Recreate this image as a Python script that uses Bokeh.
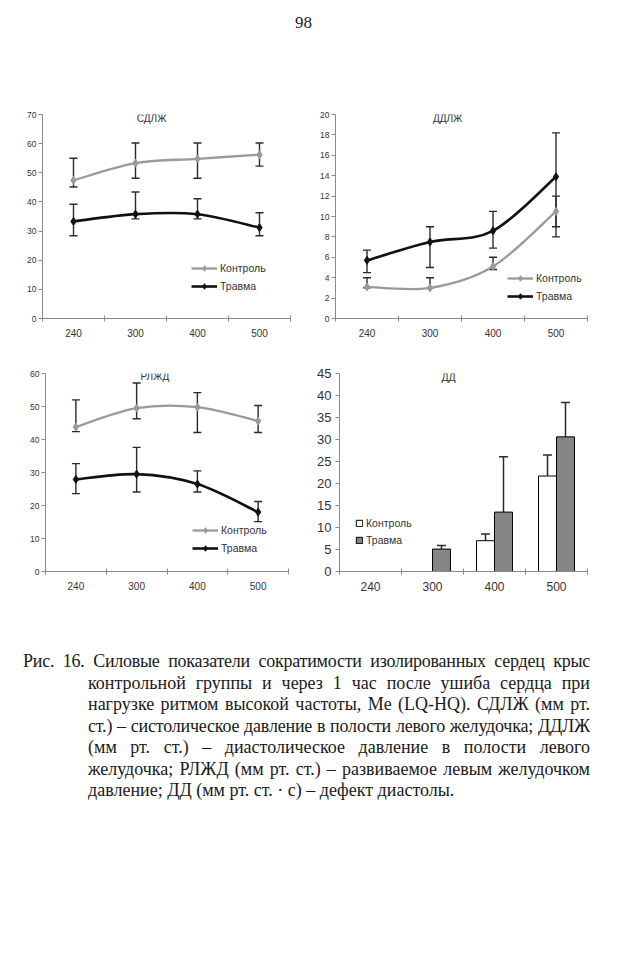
from bokeh.plotting import figure
from bokeh.models import (FixedTicker, Label, Legend, LegendItem, Whisker, TeeHead,
                          ColumnDataSource, Div, Range1d)
from bokeh.layouts import column, row
from bokeh.embed import file_html
from bokeh.resources import INLINE

# ---------------- data ----------------
categories = ["240", "300", "400", "500"]

sdlzh_control = [47.4, 53.3, 54.8, 56.2]
sdlzh_control_lo = [45.1, 48.1, 48.1, 52.3]
sdlzh_control_hi = [55.0, 60.2, 60.2, 60.2]
sdlzh_trauma = [33.3, 35.8, 35.8, 31.2]
sdlzh_trauma_lo = [28.4, 34.2, 34.2, 28.4]
sdlzh_trauma_hi = [39.2, 43.4, 41.1, 36.3]

ddlzh_control = [3.1, 3.0, 5.1, 10.5]
ddlzh_control_lo = [3.0, 3.0, 4.8, 9.0]
ddlzh_control_hi = [4.0, 4.0, 6.0, 12.0]
ddlzh_trauma = [5.7, 7.5, 8.6, 13.9]
ddlzh_trauma_lo = [4.5, 5.0, 6.9, 8.0]
ddlzh_trauma_hi = [6.7, 9.0, 10.5, 18.2]

rlzhd_control = [43.8, 49.5, 49.8, 45.6]
rlzhd_control_lo = [42.4, 46.3, 42.1, 42.1]
rlzhd_control_hi = [52.0, 57.1, 54.2, 50.3]
rlzhd_trauma = [27.9, 29.5, 26.5, 18.0]
rlzhd_trauma_lo = [23.6, 24.1, 24.1, 15.1]
rlzhd_trauma_hi = [32.7, 37.6, 30.5, 21.2]

dd_control = [0.0, 0.0, 7.0, 21.7]
dd_control_lo = [None, None, 5.8, 17.7]
dd_control_hi = [None, None, 8.5, 26.5]
dd_trauma = [0.0, 5.1, 13.5, 30.6]
dd_trauma_lo = [None, 4.2, 10.9, 27.7]
dd_trauma_hi = [None, 5.9, 26.1, 38.4]

series_names = ["Контроль", "Травма"]

page_number = "98"
caption_lines = [
    "Рис. 16. Силовые показатели сократимости изолированных сердец крыс",
    "контрольной группы и через 1 час после ушиба сердца при",
    "нагрузке ритмом высокой частоты, Me (LQ-HQ). СДЛЖ (мм рт.",
    "ст.) – систолическое давление в полости левого желудочка; ДДЛЖ",
    "(мм рт. ст.) – диастолическое давление в полости левого",
    "желудочка; РЛЖД (мм рт. ст.) – развиваемое левым желудочком",
    "давление; ДД (мм рт. ст. · с) – дефект диастолы.",
]

# ---------------- styling ----------------
FONT = "Liberation Sans"
AXIS_COLOR = "#8a8a8a"
TEXT_COLOR = "#333333"
CONTROL_COLOR = "#9a9a9a"
TRAUMA_COLOR = "#111111"
ERR_COLOR = "#2a2a2a"

xc = [i + 0.5 for i in range(len(categories))]


def base_fig(width, height, ymax, ystep, left, right, top, bottom,
             ylab_size, xlab_size, ystandoff):
    p = figure(width=width, height=height, x_range=Range1d(0, 4),
               y_range=Range1d(0, ymax), output_backend="svg",
               toolbar_location=None, min_border_left=left,
               min_border_right=right, min_border_top=top,
               min_border_bottom=bottom)
    p.outline_line_color = None
    p.grid.visible = False
    p.background_fill_color = "white"
    p.border_fill_color = "white"
    xa = p.xaxis[0]
    xa.ticker = FixedTicker(ticks=xc, minor_ticks=[0, 1, 2, 3, 4])
    xa.major_label_overrides = {x: c for x, c in zip(xc, categories)}
    xa.major_tick_in = 0
    xa.major_tick_out = 0
    xa.minor_tick_in = 3
    xa.minor_tick_out = 3
    xa.minor_tick_line_color = AXIS_COLOR
    xa.axis_line_color = AXIS_COLOR
    xa.major_label_text_font = FONT
    xa.major_label_text_font_size = xlab_size
    xa.major_label_text_color = TEXT_COLOR
    xa.major_label_standoff = 7
    ya = p.yaxis[0]
    ya.ticker = FixedTicker(ticks=list(range(0, ymax + 1, ystep)), minor_ticks=[])
    ya.major_tick_in = 0
    ya.major_tick_out = 4
    ya.major_tick_line_color = AXIS_COLOR
    ya.axis_line_color = AXIS_COLOR
    ya.major_label_text_font = FONT
    ya.major_label_text_font_size = ylab_size
    ya.major_label_text_color = TEXT_COLOR
    ya.major_label_standoff = ystandoff
    return p


def add_title(p, text, x, y, size="10px"):
    p.add_layout(Label(x=x, y=y, text=text, text_font=FONT, text_font_size=size,
                       text_color=TEXT_COLOR, text_align="center",
                       text_baseline="middle"))


def smooth_segments(xs, ys):
    pts = list(zip(xs, ys))
    ext = [pts[0]] + pts + [pts[-1]]
    d = dict(x0=[], y0=[], x1=[], y1=[], cx0=[], cy0=[], cx1=[], cy1=[])
    for i in range(len(pts) - 1):
        p0, p1, p2, p3 = ext[i], ext[i + 1], ext[i + 2], ext[i + 3]
        d["x0"].append(p1[0]); d["y0"].append(p1[1])
        d["x1"].append(p2[0]); d["y1"].append(p2[1])
        d["cx0"].append(p1[0] + (p2[0] - p0[0]) / 6.0)
        d["cy0"].append(p1[1] + (p2[1] - p0[1]) / 6.0)
        d["cx1"].append(p2[0] - (p3[0] - p1[0]) / 6.0)
        d["cy1"].append(p2[1] - (p3[1] - p1[1]) / 6.0)
    return ColumnDataSource(d)


def add_errors(p, xs, lo, hi, color=ERR_COLOR, size=8, width=1.4):
    keep = [i for i in range(len(xs)) if lo[i] is not None]
    src = ColumnDataSource(dict(x=[xs[i] for i in keep],
                                lo=[lo[i] for i in keep],
                                hi=[hi[i] for i in keep]))
    w = Whisker(source=src, base="x", lower="lo", upper="hi",
                line_color=color, line_width=width,
                upper_head=TeeHead(size=size, line_color=color, line_width=width),
                lower_head=TeeHead(size=size, line_color=color, line_width=width))
    p.add_layout(w)


def line_chart(p, ctrl, ctrl_lo, ctrl_hi, tr, tr_lo, tr_hi, legend_loc):
    items = []
    for vals, lo, hi, col, lw, name in [
        (ctrl, ctrl_lo, ctrl_hi, CONTROL_COLOR, 2.3, series_names[0]),
        (tr, tr_lo, tr_hi, TRAUMA_COLOR, 2.6, series_names[1]),
    ]:
        p.bezier(x0="x0", y0="y0", x1="x1", y1="y1", cx0="cx0", cy0="cy0",
                 cx1="cx1", cy1="cy1", source=smooth_segments(xc, vals),
                 line_color=col, line_width=lw)
        leg_line = p.line(xc, vals, line_color=col, line_width=lw, visible=False)
        add_errors(p, xc, lo, hi)
        sc = p.scatter(xc, vals, marker="diamond", size=8, fill_color=col,
                       line_color=col)
        items.append(LegendItem(label=name, renderers=[leg_line, sc]))
    leg = Legend(items=items, location=legend_loc, orientation="vertical",
                 glyph_width=26, glyph_height=14, label_height=14,
                 label_width=20, spacing=4, padding=0, margin=0,
                 label_standoff=3, label_text_font=FONT,
                 label_text_font_size="10.5px", label_text_color=TEXT_COLOR,
                 background_fill_alpha=0, border_line_color=None)
    p.add_layout(leg, "center")


# ---------- chart 1: СДЛЖ ----------
p1 = base_fig(292, 256, 70, 10, 34, 10, 18, 34, "8.5px", "10px", 2)
line_chart(p1, sdlzh_control, sdlzh_control_lo, sdlzh_control_hi,
           sdlzh_trauma, sdlzh_trauma_lo, sdlzh_trauma_hi, (149, 25))
add_title(p1, "СДЛЖ", 1.76, 68.6)

# ---------- chart 2: ДДЛЖ ----------
p2 = base_fig(312, 256, 20, 2, 35, 25, 18, 34, "8.5px", "10px", 2)
line_chart(p2, ddlzh_control, ddlzh_control_lo, ddlzh_control_hi,
           ddlzh_trauma, ddlzh_trauma_lo, ddlzh_trauma_hi, (172, 15))
add_title(p2, "ДДЛЖ", 1.78, 19.6)

# ---------- chart 3: РЛЖД ----------
p3 = base_fig(292, 258, 60, 10, 37, 12, 20, 35, "8.5px", "10px", 2)
line_chart(p3, rlzhd_control, rlzhd_control_lo, rlzhd_control_hi,
           rlzhd_trauma, rlzhd_trauma_lo, rlzhd_trauma_hi, (147, 16))
add_title(p3, "РЛЖД", 1.8, 59.1)

# ---------- chart 4: ДД (bars) ----------
p4 = base_fig(312, 258, 45, 5, 39, 25, 21, 39, "13px", "12px", 4)
off = 0.145
bw = 0.29
xl = [x - off for x in xc]
xr = [x + off for x in xc]
b1 = p4.vbar(x=xl, top=dd_control, bottom=0, width=bw, fill_color="white",
             line_color="black", line_width=1)
b2 = p4.vbar(x=xr, top=dd_trauma, bottom=0, width=bw, fill_color="#858585",
             line_color="black", line_width=1)
add_errors(p4, xl, dd_control_lo, dd_control_hi, size=9, width=1.5)
add_errors(p4, xr, dd_trauma_lo, dd_trauma_hi, size=9, width=1.5)
leg4 = Legend(items=[LegendItem(label=series_names[0], renderers=[b1]),
                     LegendItem(label=series_names[1], renderers=[b2])],
              location=(16, 25), glyph_width=8, glyph_height=8, label_height=12,
              label_width=20, spacing=5, padding=0, margin=0, label_standoff=3,
              label_text_font=FONT, label_text_font_size="10.5px",
              label_text_color=TEXT_COLOR, background_fill_alpha=0,
              border_line_color=None)
p4.add_layout(leg4, "center")
add_title(p4, "ДД", 1.76, 44.1, "10.5px")

# ---------- text ----------
SERIF = "font-family:'Liberation Serif','Times New Roman',serif;"
top_div = Div(text=f'<div style="width:604px;box-sizing:border-box;text-align:center;'
                   f'padding-top:5px;padding-right:13px;{SERIF}font-size:17px;'
                   f'line-height:20px;color:#222">{page_number}</div>',
              width=604, height=88, margin=0)

letter_spacing = {0: "-0.25px", 3: "-0.2px"}
parts = [f'<div style="width:604px;box-sizing:border-box;padding-top:41px;{SERIF}'
         'font-size:18px;line-height:21.5px;color:#1a1a1a">']
for i, ln in enumerate(caption_lines):
    pad_left = 15 if i == 0 else 80
    last = i == len(caption_lines) - 1
    align = "text-align:left;" if last else "text-align:justify;text-align-last:justify;"
    extra = f"letter-spacing:{letter_spacing[i]};" if i in letter_spacing else ""
    parts.append(f'<div style="width:604px;box-sizing:border-box;'
                 f'padding-left:{pad_left}px;padding-right:22px;'
                 f'white-space:nowrap;{extra}{align}">{ln}</div>')
parts.append("</div>")
cap_div = Div(text="".join(parts), width=604, height=260, margin=0)

layout = column(top_div, row(p1, p2, spacing=0), row(p3, p4, spacing=0), cap_div,
                spacing=0, margin=(8, 8, 8, 8))

open("out.html", "w").write(file_html(layout, INLINE))
